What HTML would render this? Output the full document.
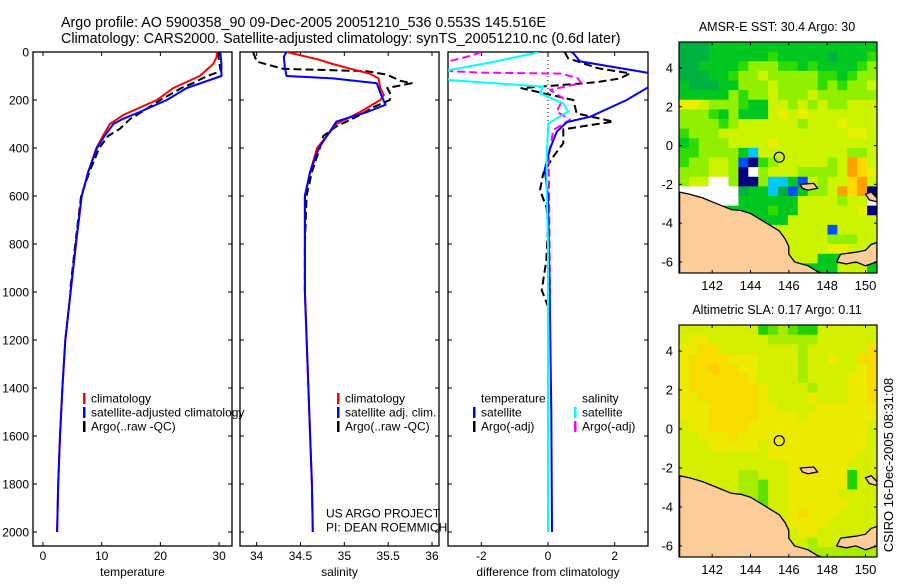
<!DOCTYPE html>
<html><head><meta charset="utf-8"><style>
html,body{margin:0;padding:0;background:#fff;}
svg text{font-family:"Liberation Sans",sans-serif;fill:#000;}
</style></head><body>
<svg id="chart" width="900" height="580" viewBox="0 0 900 580" xmlns="http://www.w3.org/2000/svg">
<text x="61" y="27" font-size="14.3">Argo profile: AO 5900358_90 09-Dec-2005 20051210_536 0.553S 145.516E</text>
<text x="61" y="43" font-size="14.3">Climatology: CARS2000. Satellite-adjusted climatology: synTS_20051210.nc (0.6d later)</text>
</svg>
<script>
// ---------- data ----------
const tempDepthClim=[0,20,50,100,150,200,262,300,350,400,500,600,800,1000,1200,1400,1600,1800,2000];
const tempClim=[29.6,29.6,29.0,26.7,22.2,19.4,13.7,11.4,10.2,9.1,7.7,6.6,5.6,4.7,3.8,3.3,2.9,2.6,2.4];
const tempDepthSat=[0,50,100,150,200,250,280,300,350,400,500,600,800,1000,1200,1400,1600,1800,2000];
const tempSat=[30.2,30.4,30.4,24.5,21.1,16.5,13.5,12.0,10.5,9.2,7.7,6.6,5.6,4.7,3.8,3.3,2.9,2.6,2.4];
const tempDepthArgo=[0,40,80,100,130,150,200,250,280,320,350,400,500,600,800,1000];
const tempArgo=[29.8,30.0,30.3,28.0,25.5,23.6,20.0,16.8,14.8,13.1,11.1,9.6,7.9,6.5,5.5,4.6];

const salDepthClim=[0,30,50,70,90,110,150,180,200,250,300,350,400,500,600,1000,1400,1800,2000];
const salClim=[34.34,34.69,34.87,35.07,35.29,35.39,35.41,35.45,35.41,35.18,34.91,34.8,34.69,34.61,34.55,34.55,34.59,34.63,34.64];
const salDepthSat=[0,20,60,100,110,130,170,220,250,290,400,500,600,1000,1400,1800,2000];
const salSat=[34.34,34.31,34.32,34.34,34.87,35.37,35.41,35.47,35.26,34.91,34.71,34.61,34.55,34.55,34.59,34.63,34.64];
const salDepthArgo=[0,40,70,80,95,120,130,150,170,200,230,270,310,350,400,500,600,800,1000];
const salArgo=[33.96,34.0,34.3,35.26,35.49,35.64,35.77,35.49,35.52,35.52,35.33,35.14,34.91,34.76,34.72,34.63,34.57,34.55,34.55];

const diffDepthT=[0,5,39,86,100,147,200,270,292,333,403,490,600,1000,1500,2000];
const diffTSat=[0.7,0.76,0.96,2.96,3.5,3.0,2.36,1.26,0.56,0.26,0.06,-0.1,0,0.05,0.1,0.12];
const diffDepthTA=[0,26,68,89,110,126,151,200,256,290,322,380,436,505,575,650,733,870,992,1060,1200];
const diffTArgo=[0.5,0.6,1.5,2.46,2.16,1.46,-0.8,0.76,0.86,1.96,0.46,0.46,0.16,-0.14,-0.24,-0.04,0,-0.05,-0.19,0,0];
const diffDepthS=[0,6,40,75,90,110,117,144,172,214,248,297,436,575,800,2000];
const diffSSat=[-0.3,-0.44,-1.6,-2.94,-3.3,-3.1,-2.94,-0.14,-0.24,0.46,0.61,0.01,-0.04,-0.04,0,0];
const diffDepthSA=[0,15,40,60,80,86,90,110,130,158,193,248,283,325,436,1000,1100,2000];
const diffSArgo=[-2.0,-2.3,-3.0,-3.2,-2.9,-2.1,0.4,0.9,1.0,0.06,0.46,0.26,0.66,0.16,0.02,0.06,0,0];

const depthTicks=[0,200,400,600,800,1000,1200,1400,1600,1800,2000];
const tempTicks=[0,10,20,30];
const salTicks=[34,34.5,35,35.5,36];
const diffTicks=[-2,0,2];
const lonTicks=[142,144,146,148,150];
const latTicks=[-6,-4,-2,0,2,4];

const sstGrid=[
"33344444444444444444","33344444454444434445","33444456665545444456","33344566766666554566",
"43334466676666565667","44444656676667666666","88766654477676766777","66654644478787777777",
"66665677777767778777","56667777777777777887","45666777787777777777","55666642777777777667",
"56677610567777767a97","6667760w677766667a98","677ww6006224176779a7","wwwwww3442314667a9a0",
"wwwwww4444447777677w","44444444454477777780","44444444444777777777","44444444477777717777",
"44444444877777766677","44444444777777788777","44444444777777444474","44444444455044447774"];
const slaGrid=[
"77777777456544777777","78877777766666777777","88997777777767777779","89999888777767787799",
"899a9988777767777789","89999998777767777889","89999999877776777889","88999999877778777889",
"88899999887777888888","88899999888878888888","78899998888888888887","77888988888888888887",
"77788888788888888887","77777777788888888877","77777777777888888777","77777766777888888477",
"77777766577888888477","77777766577888887777","77777766577888888777","77777777777898887777",
"77777777777888877777","77777777777788777777","77777777777776777776","77777777777776666666"];
const mainland=[[140.3,-2.4],[140.8,-2.5],[141.5,-2.7],[142,-2.9],[142.5,-3.1],[143,-3.3],[143.5,-3.35],[144,-3.5],[144.5,-3.8],[145,-4.1],[145.5,-4.4],[145.8,-4.8],[146,-5.2],[146,-5.6],[146.3,-6.0],[147,-6.2],[147.5,-6.5],[147.8,-6.6],[140.3,-6.6]];
const newBritain=[[148.5,-6.0],[148.7,-5.6],[149.5,-5.5],[150,-5.4],[150.3,-5.1],[150.6,-5.0],[150.6,-6.0],[150,-6.2],[149.5,-6.0],[149,-6.1]];
const manus=[[146.6,-2.0],[147.3,-1.95],[147.5,-2.2],[147,-2.3],[146.7,-2.2]];
const newIreland=[[150,-2.5],[150.3,-2.4],[150.6,-2.7],[150.6,-2.9],[150.2,-2.8]];
const argoPos=[145.5,-0.6];

// ---------- drawing ----------
const NS="http://www.w3.org/2000/svg";
const svg=document.getElementById('chart');
function el(tag,attrs,parent){const e=document.createElementNS(NS,tag);for(const k in attrs)e.setAttribute(k,attrs[k]);(parent||svg).appendChild(e);return e;}
const Y0=52,Y1=546;
const yD=d=>Y0+d*0.24;
const panels=[
 {key:'temperature',x0:33,x1:232,min:-1.7,max:32.2,ticks:tempTicks,label:'temperature'},
 {key:'salinity',x0:240,x1:439,min:33.81,max:36.08,ticks:salTicks,label:'salinity'},
 {key:'difference',x0:448,x1:648,min:-3,max:3,ticks:diffTicks,label:'difference from climatology'}];
panels.forEach(p=>{p.x=v=>p.x0+(v-p.min)/(p.max-p.min)*(p.x1-p.x0);});

const defs=el('defs',{});
panels.forEach((p,i)=>{const c=el('clipPath',{id:'clip'+i},defs);el('rect',{x:p.x0,y:Y0,width:p.x1-p.x0,height:Y1-Y0},c);});

panels.forEach((p,i)=>{
  const g=el('g',{});
  
  
  const f=el('rect',{x:p.x0,y:Y0,width:p.x1-p.x0,height:Y1-Y0,fill:'none',stroke:'#000','stroke-width':1.3},g);
  
  
  depthTicks.forEach(d=>{
    el('line',{x1:p.x0,x2:p.x0+4,y1:yD(d),y2:yD(d),stroke:'#000'},g);
    el('line',{x1:p.x1-4,x2:p.x1,y1:yD(d),y2:yD(d),stroke:'#000'},g);
  });
  p.ticks.forEach(t=>{
    const x=p.x(t);
    el('line',{x1:x,x2:x,y1:Y0,y2:Y0+4,stroke:'#000'},g);
    el('line',{x1:x,x2:x,y1:Y1-4,y2:Y1,stroke:'#000'},g);
    const tx=el('text',{x:x,y:560,'font-size':12,'text-anchor':'middle'},g);
    tx.textContent=String(t);
    
    
  });
  const lb=el('text',{x:(p.x0+p.x1)/2,y:576,'font-size':12,'text-anchor':'middle'},g);
  lb.textContent=p.label;
  
  
});
depthTicks.forEach(d=>{
  const t=el('text',{x:29,y:yD(d)+4.5,'font-size':12,'text-anchor':'end'});
  t.textContent=String(d);
  
  
});

function series(pi,depths,vals,color,dash,name,w){
  const p=panels[pi];
  const pts=depths.map((d,i)=>p.x(vals[i]).toFixed(1)+','+yD(d).toFixed(1)).join(' ');
  const a={points:pts,fill:'none',stroke:color,'stroke-width':w||2,'clip-path':'url(#clip'+pi+')','stroke-linejoin':'round'};
  if(dash)a['stroke-dasharray']=dash;
  const l=el('polyline',a);
  
  
}
const zl=el('line',{x1:panels[2].x(0),x2:panels[2].x(0),y1:Y0,y2:yD(330),stroke:'#000','stroke-dasharray':'1,3'});



series(0,tempDepthArgo,tempArgo,'#000','8,4','temperature-argo-line');
series(0,tempDepthClim,tempClim,'#f00',null,'temperature-climatology-line');
series(0,tempDepthSat,tempSat,'#00f',null,'temperature-satellite-line');
series(1,salDepthArgo,salArgo,'#000','8,4','salinity-argo-line');
series(1,salDepthClim,salClim,'#f00',null,'salinity-climatology-line');
series(1,salDepthSat,salSat,'#00f',null,'salinity-satellite-line');
series(2,diffDepthTA,diffTArgo,'#000','8,4','diff-temperature-argo-line');
series(2,diffDepthSA,diffSArgo,'#f0f','8,4','diff-salinity-argo-line');
series(2,diffDepthT,diffTSat,'#00f',null,'diff-temperature-satellite-line');
series(2,diffDepthS,diffSSat,'#0ff',null,'diff-salinity-satellite-line');

function legend(x,y,color,text,name){
  if(color){const r=el('rect',{x:x-8,y:y-5,width:2.5,height:11,fill:color});
    
    }
  const t=el('text',{x:x,y:y+4.5,'font-size':12});
  t.textContent=text;
  
  
}
legend(91,398,'#f00','climatology','legend-temp-climatology');
legend(91,412,'#00f','satellite-adjusted climatology','legend-temp-satellite');
legend(91,426,'#000','Argo(..raw -QC)','legend-temp-argo');
legend(345,398,'#f00','climatology','legend-sal-climatology');
legend(345,412,'#00f','satellite adj. clim.','legend-sal-satellite');
legend(345,426,'#000','Argo(..raw -QC)','legend-sal-argo');
legend(326,513,null,'US ARGO PROJECT','project-label');
legend(326,527,null,'PI: DEAN ROEMMICH','pi-label');
legend(481,398,null,'temperature','legend-diff-temperature-header');
legend(481,412,'#00f','satellite','legend-diff-temp-satellite');
legend(481,426,'#000','Argo(-adj)','legend-diff-temp-argo');
legend(582,398,null,'salinity','legend-diff-salinity-header');
legend(582,412,'#0ff','satellite','legend-diff-sal-satellite');
legend(582,426,'#f0f','Argo(-adj)','legend-diff-sal-argo');

// ---------- maps ----------
const sstPal={'0':'#000080','1':'#0050ff','2':'#00c8ff','3':'#00b040','4':'#00c820','5':'#30dc00','6':'#90f000','7':'#ccf400','8':'#e8f000','9':'#ffd800','a':'#ffa000','w':'#ffffff'};
const slaPal={'4':'#20d000','5':'#60e000','6':'#a8ec00','7':'#d4f000','8':'#ecea00','9':'#f8dc00','a':'#ffcc00'};
const LON0=140.27,LON1=150.6,LAT0=5.34,LAT1=-6.57;
function drawMap(key,y0,y1,grid,pal,title){
  const x0=679,x1=877;
  const mx=lo=>x0+(lo-LON0)/(LON1-LON0)*(x1-x0);
  const my=la=>y0+(LAT0-la)/(LAT0-LAT1)*(y1-y0);
  const g=el('g',{});
  
  
  const cp=el('clipPath',{id:'clip-'+key},defs);el('rect',{x:x0,y:y0,width:x1-x0,height:y1-y0},cp);
  const cg=el('g',{'clip-path':'url(#clip-'+key+')'},g);
  const nr=grid.length,nc=grid[0].length,cw=(x1-x0)/nc,ch=(y1-y0)/nr;
  grid.forEach((row,r)=>{for(let c=0;c<nc;c++){
    const cell=el('rect',{x:(x0+c*cw).toFixed(2),y:(y0+r*ch).toFixed(2),width:(cw+0.4).toFixed(2),height:(ch+0.4).toFixed(2),fill:pal[row[c]]||'#fff'},cg);
    
    
  }});
  [mainland,newBritain,manus,newIreland].forEach(poly=>{
    const lp=el('polygon',{points:poly.map(q=>mx(q[0]).toFixed(1)+','+my(q[1]).toFixed(1)).join(' '),fill:'#fccc99',stroke:'#000','stroke-width':1.3},cg);
    
    
  });
  const c=el('circle',{cx:mx(argoPos[0]),cy:my(argoPos[1]),r:5,fill:'none',stroke:'#000','stroke-width':1.2},g);
  
  
  el('rect',{x:x0,y:y0,width:x1-x0,height:y1-y0,fill:'none',stroke:'#000','stroke-width':1.2},g);
  lonTicks.forEach(lo=>{const x=mx(lo);
    el('line',{x1:x,x2:x,y1:y0,y2:y0+3,stroke:'#000'},g);el('line',{x1:x,x2:x,y1:y1-3,y2:y1,stroke:'#000'},g);
    const t=el('text',{x:x,y:y1+17,'font-size':13,'text-anchor':'middle'},g);t.textContent=String(lo);
    
    });
  latTicks.forEach(la=>{const y=my(la);
    el('line',{x1:x0,x2:x0+3,y1:y,y2:y,stroke:'#000'},g);el('line',{x1:x1-3,x2:x1,y1:y,y2:y,stroke:'#000'},g);
    const t=el('text',{x:673,y:y+4.5,'font-size':13,'text-anchor':'end'},g);t.textContent=String(la);
    
    });
  const tt=el('text',{x:777,y:y0-11,'font-size':12.5,'text-anchor':'middle'},g);tt.textContent=title;
  
  
}
drawMap('sst',42,273,sstGrid,sstPal,'AMSR-E SST: 30.4 Argo: 30');
drawMap('sla',325,557,slaGrid,slaPal,'Altimetric SLA: 0.17 Argo: 0.11');
const ts=el('text',{x:0,y:0,'font-size':13,'text-anchor':'middle',transform:'translate(893,465) rotate(-90)'});
ts.textContent='CSIRO 16-Dec-2005 08:31:08';


</script>
</body></html>
